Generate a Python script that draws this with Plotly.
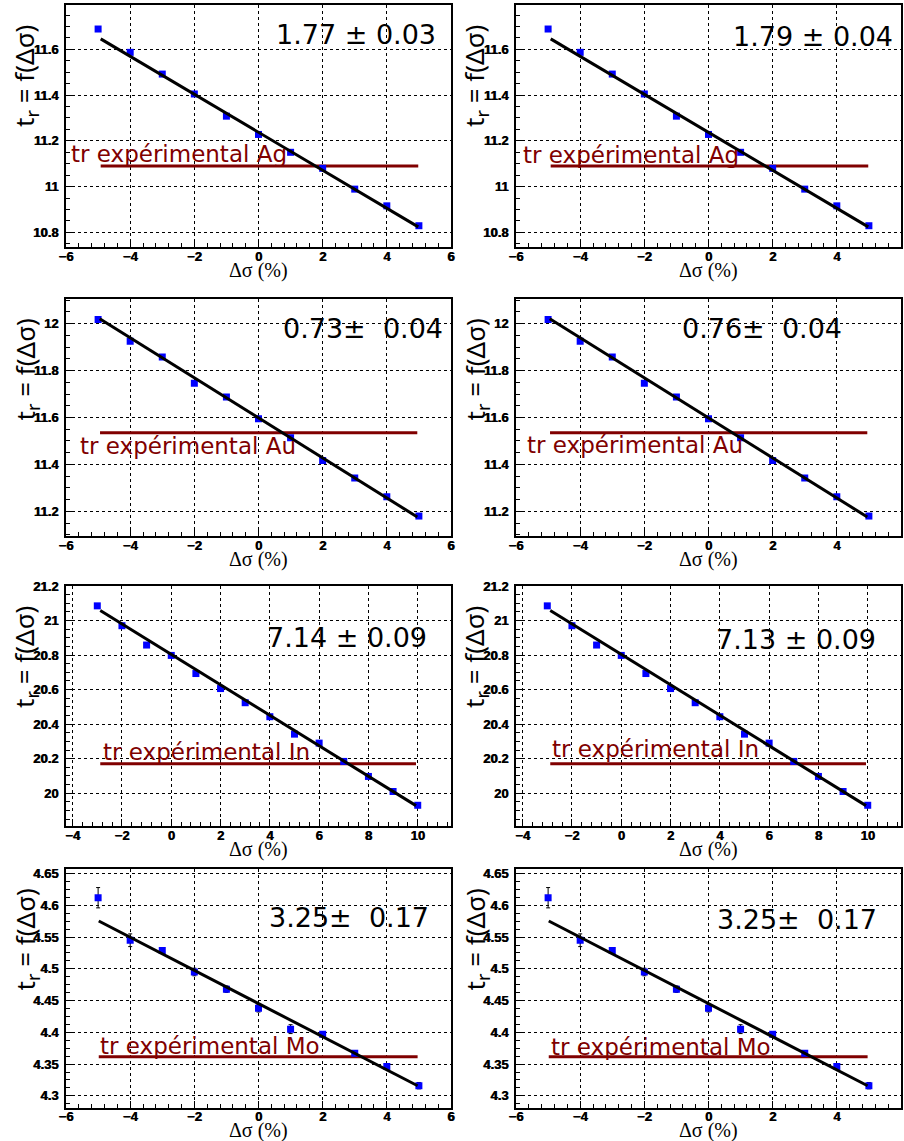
import plotly.graph_objects as go

W, H = 904, 1141

# ---------------- data ----------------
ag_x = [-5, -4, -3, -2, -1, 0, 1, 2, 3, 4, 5]
ag_y = [11.689, 11.587, 11.492, 11.405, 11.308, 11.228, 11.150, 11.080, 10.989, 10.916, 10.829]
ag_fit_x = [-4.92, 4.98]
ag_fit_y = [11.646, 10.824]
ag_exp = 11.090
ag_exp_x = [-4.92, 4.98]

au_x = [-5, -4, -3, -2, -1, 0, 1, 2, 3, 4, 5]
au_y = [12.018, 11.925, 11.858, 11.746, 11.687, 11.595, 11.514, 11.417, 11.342, 11.262, 11.180]
au_fit_x = [-4.95, 4.95]
au_fit_y = [12.021, 11.176]
au_exp = 11.535
au_exp_x = [-4.94, 4.95]

in_x = [-3, -2, -1, 0, 1, 2, 3, 4, 5, 6, 7, 8, 9, 10]
in_y = [21.085, 20.970, 20.858, 20.798, 20.693, 20.606, 20.524, 20.443, 20.342, 20.290, 20.184, 20.097, 20.010, 19.930]
in_fit_x = [-2.88, 9.93]
in_fit_y = [21.058, 19.928]
in_exp = 20.171
in_exp_x = [-2.88, 9.93]

mo_x = [-5, -4, -3, -2, -1, 0, 1, 2, 3, 4, 5]
mo_y = [4.612, 4.545, 4.529, 4.495, 4.468, 4.438, 4.405, 4.397, 4.367, 4.346, 4.316]
mo_err = [0.016, 0.010, 0.004, 0.006, 0.005, 0.006, 0.007, 0.004, 0.004, 0.004, 0.005]
mo_fit_x = [-4.98, 4.96]
mo_fit_y = [4.5753, 4.3158]
mo_exp = 4.3616
mo_exp_x = [-4.98, 4.96]

results_left = ["1.77 ± 0.03", "0.73± \u00a00.04", "7.14 ± 0.09", "3.25± \u00a00.17"]
results_right = ["1.79 ± 0.04", "0.76± \u00a00.04", "7.13 ± 0.09", "3.25± \u00a00.17"]
exp_labels = ["tr expérimental Ag", "tr expérimental Au", "tr expérimental In", "tr expérimental Mo"]

x_title = "Δσ (%)"
y_title = "t<sub>r</sub> = f(Δσ)"

# ---------------- layout helpers ----------------
cols_px = [(66, 451), (516, 901)]
rows_px = [(5, 247), (298.5, 536), (586, 826), (868.5, 1107.5)]

panels = [
    dict(x=ag_x, y=ag_y, err=None, fx=ag_fit_x, fy=ag_fit_y, ey=ag_exp, ex=ag_exp_x,
         xr=[-6.001, 6.001], yr=[10.736, 11.794], xd=2, x0=-6, yd=0.2, y0=10.8, xm=0.4, ym=0.05,
         res_pos=[(5.6, 11.665), (5.82, 11.658)], lab_pos=[(-5.9, 11.142), (-5.84, 11.140)]),
    dict(x=au_x, y=au_y, err=None, fx=au_fit_x, fy=au_fit_y, ey=au_exp, ex=au_exp_x,
         xr=[-6.001, 6.001], yr=[11.095, 12.107], xd=2, x0=-6, yd=0.2, y0=11.2, xm=0.4, ym=0.05,
         res_pos=[(5.81, 11.979), (4.22, 11.979)], lab_pos=[(-5.63, 11.478), (-5.72, 11.484)]),
    dict(x=in_x, y=in_y, err=None, fx=in_fit_x, fy=in_fit_y, ey=in_exp, ex=in_exp_x,
         xr=[-4.27, 11.35], yr=[19.81, 21.2], xd=2, x0=-4, yd=0.2, y0=20, xm=0.4, ym=0.05,
         res_pos=[(10.47, 20.903), (10.41, 20.888)], lab_pos=[(-2.83, 20.239), (-2.89, 20.257)]),
    dict(x=mo_x, y=mo_y, err=mo_err, fx=mo_fit_x, fy=mo_fit_y, ey=mo_exp, ex=mo_exp_x,
         xr=[-6.001, 6.001], yr=[4.2816, 4.658], xd=2, x0=-6, yd=0.05, y0=4.3, xm=0.4, ym=0.0125,
         res_pos=[(5.37, 4.5816), (5.32, 4.5776)], lab_pos=[(-5.01, 4.378), (-4.98, 4.377)]),
]

fig = go.Figure()
annotations = []
layout = dict(
    width=W, height=H, margin=dict(l=0, r=0, t=0, b=0, autoexpand=False),
    paper_bgcolor="white", plot_bgcolor="white", showlegend=False,
)

tickfont = dict(family="Liberation Sans", size=13, color="black", weight=700,
                shadow="0.6px 0px 0px black")

k = 0
for r, p in enumerate(panels):
    for c in range(2):
        k += 1
        xa = "x" if k == 1 else f"x{k}"
        ya = "y" if k == 1 else f"y{k}"
        xl = "xaxis" if k == 1 else f"xaxis{k}"
        yl = "yaxis" if k == 1 else f"yaxis{k}"
        (px0, px1) = cols_px[c]
        (py0, py1) = rows_px[r]
        layout[xl] = dict(
            domain=[px0 / W, px1 / W], anchor=ya, range=p["xr"], automargin=False,
            tick0=p["x0"], dtick=p["xd"], ticks="inside", ticklen=7, tickwidth=1, tickcolor="black",
            showline=True, linecolor="black", linewidth=2, mirror=True,
            showgrid=True, gridcolor="black", gridwidth=1, griddash="dot",
            zeroline=False, tickfont=tickfont, ticklabelstandoff=-4,
            minor=dict(ticks="inside", ticklen=4, dtick=p["xm"], tick0=p["x0"], tickcolor="black", showgrid=False),
        )
        layout[yl] = dict(
            domain=[1 - py1 / H, 1 - py0 / H], anchor=xa, range=p["yr"], automargin=False,
            tick0=p["y0"], dtick=p["yd"], ticks="inside", ticklen=7, tickwidth=1, tickcolor="black",
            showline=True, linecolor="black", linewidth=2, mirror=True,
            showgrid=True, gridcolor="black", gridwidth=1, griddash="dot",
            zeroline=False, tickfont=tickfont, ticklabelstandoff=3,
            minor=dict(ticks="inside", ticklen=4, dtick=p["ym"], tick0=p["y0"], tickcolor="black", showgrid=False),
        )
        # experimental horizontal line
        fig.add_trace(go.Scatter(x=p["ex"], y=[p["ey"], p["ey"]], mode="lines",
                                 line=dict(color="#800000", width=3), xaxis=xa, yaxis=ya, hoverinfo="skip"))
        # data points
        err = None
        if p["err"] is not None:
            err = dict(type="data", array=p["err"], color="black", thickness=1, width=2)
        fig.add_trace(go.Scatter(x=p["x"], y=p["y"], mode="markers",
                                 marker=dict(symbol="square", size=7, color="#0000ff"),
                                 error_y=err, xaxis=xa, yaxis=ya))
        # fit line
        fig.add_trace(go.Scatter(x=p["fx"], y=p["fy"], mode="lines",
                                 line=dict(color="black", width=3), xaxis=xa, yaxis=ya, hoverinfo="skip"))
        # result text
        rx, ry = p["res_pos"][c]
        annotations.append(dict(x=rx, y=ry, xref=xa, yref=ya, xanchor="right", yanchor="middle",
                                text=(results_left if c == 0 else results_right)[r], showarrow=False,
                                font=dict(family="DejaVu Sans", size=27, color="black")))
        # experimental label
        lx, ly = p["lab_pos"][c]
        annotations.append(dict(x=lx, y=ly, xref=xa, yref=ya, xanchor="left", yanchor="middle",
                                text=exp_labels[r], showarrow=False,
                                font=dict(family="DejaVu Sans", size=23, color="#800000")))
        # axis titles
        annotations.append(dict(x=0.5, y=0, xref=f"{xa} domain", yref=f"{ya} domain",
                                xanchor="center", yanchor="middle", yshift=-23,
                                text=x_title, showarrow=False,
                                font=dict(family="Liberation Serif", size=20, color="black")))
        annotations.append(dict(x=0, y=1, xref=f"{xa} domain", yref=f"{ya} domain",
                                xanchor="center", yanchor="top", xshift=-41, yshift=-18,
                                text=y_title, textangle=-90, showarrow=False,
                                font=dict(family="Noto Sans", size=26, color="black")))

layout["annotations"] = annotations
fig.update_layout(**layout)
fig.write_html("out.html", config={"displayModeBar": False},
               post_script="document.body.style.margin='0';document.body.style.overflow='hidden';")
